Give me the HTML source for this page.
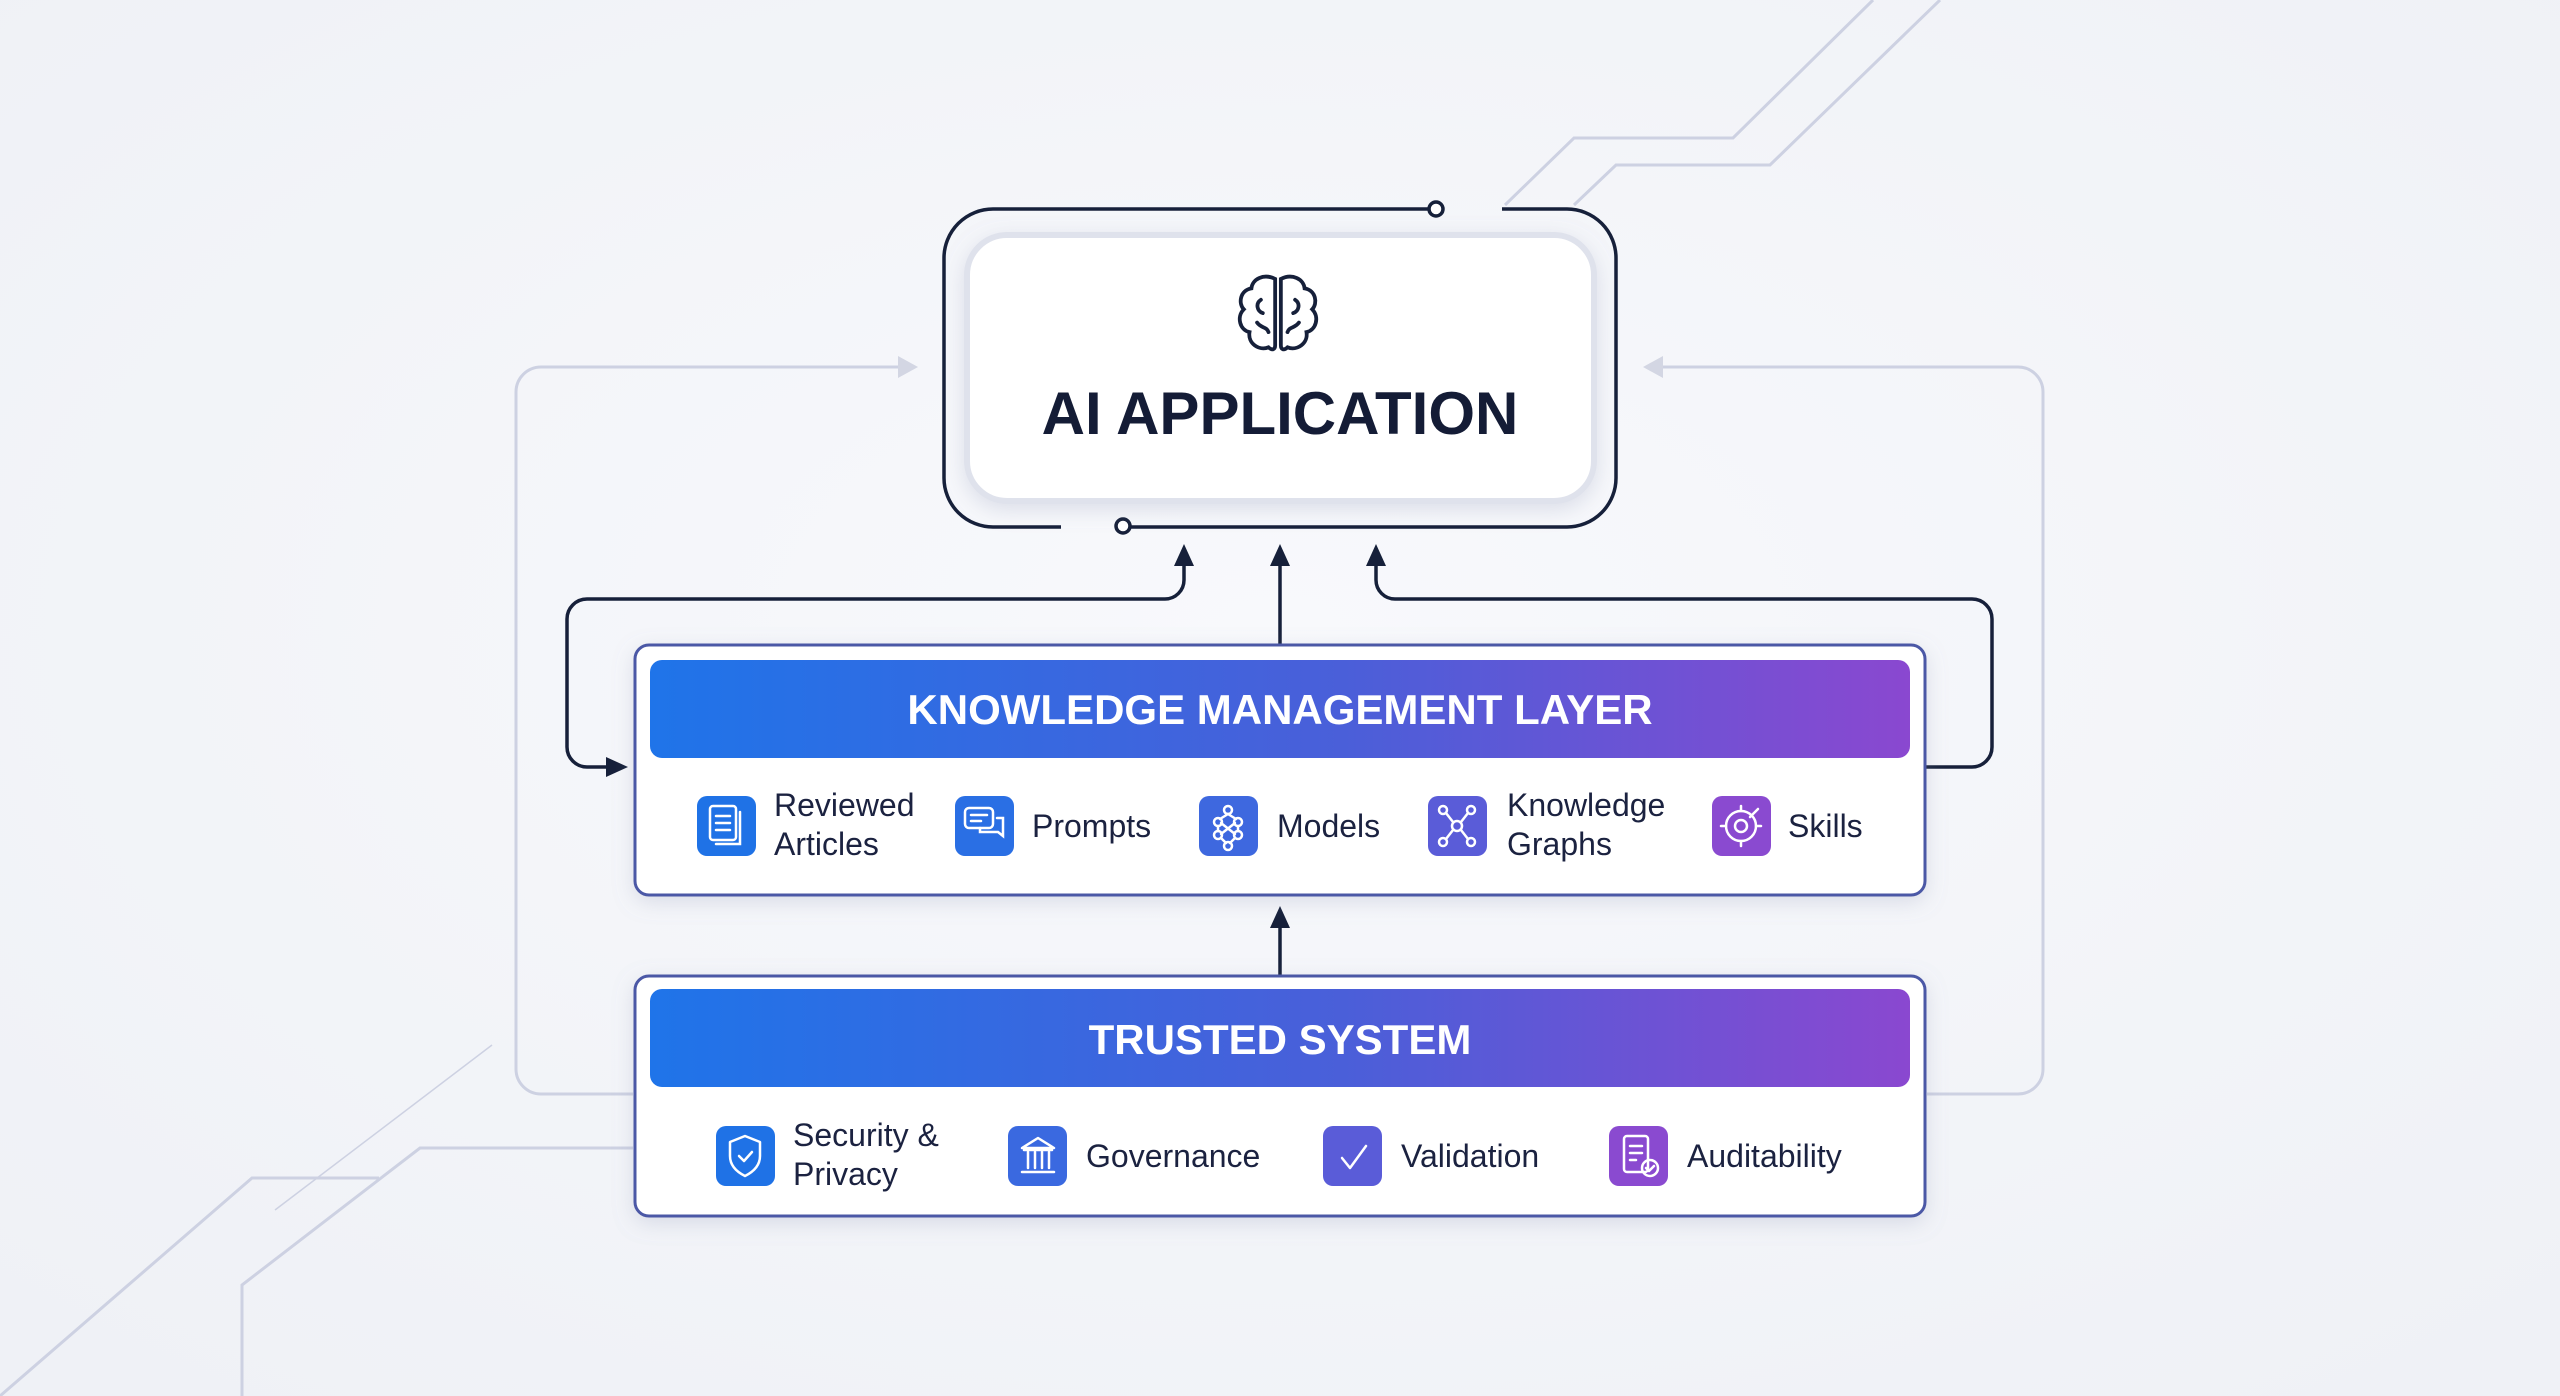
<!DOCTYPE html>
<html><head><meta charset="utf-8"><style>
html,body{margin:0;padding:0;width:2560px;height:1396px;overflow:hidden;background:#f3f5f9;}
svg{display:block}
text{font-family:"Liberation Sans",sans-serif;}
</style></head><body>
<svg width="2560" height="1396" viewBox="0 0 2560 1396" xmlns="http://www.w3.org/2000/svg">
<defs>
<linearGradient id="hg" x1="0" x2="1" y1="0" y2="0">
<stop offset="0" stop-color="#1f74e9"/><stop offset="0.55" stop-color="#4a5fd9"/><stop offset="1" stop-color="#8a48d0"/></linearGradient>
<radialGradient id="bg" cx="0.5" cy="0.45" r="0.7"><stop offset="0" stop-color="#f8f9fc"/><stop offset="1" stop-color="#eff1f6"/></radialGradient>
<filter id="sh" x="-10%" y="-10%" width="120%" height="130%"><feDropShadow dx="0" dy="6" stdDeviation="10" flood-color="#8890b0" flood-opacity="0.25"/></filter>
</defs>
<rect width="2560" height="1396" fill="url(#bg)"/>
<g fill="none" stroke="#cdd1e2" stroke-width="3">
<polyline points="1873,0 1733,138 1574,138 1505,205"/>
<polyline points="1940,0 1770,165 1616,165 1574,205"/>
<polyline points="0,1396 252,1178 379,1178"/>
<polyline points="242,1396 242,1285 420,1148 633,1148"/>
<line x1="275" y1="1210" x2="492" y2="1045" stroke-width="1.5"/>
<path d="M905,367 H541 a25,25 0 0 0 -25,25 V1069 a25,25 0 0 0 25,25 H633"/>
<path d="M1660,367 H2018 a25,25 0 0 1 25,25 V1069 a25,25 0 0 1 -25,25 H1927"/>
</g>
<polygon points="918,367 898,356 898,378" fill="#d3d6e3"/>
<polygon points="1643,367 1663,356 1663,378" fill="#d3d6e3"/>

<g fill="none" stroke="#16203a" stroke-width="3.5">
<path d="M1430,209 H993 a49,49 0 0 0 -49,49 V478 a49,49 0 0 0 49,49 H1061"/>
<path d="M1502,209 H1567 a49,49 0 0 1 49,49 V478 a49,49 0 0 1 -49,49 H1130"/>
<circle cx="1436" cy="209" r="7" fill="#fff"/>
<circle cx="1123" cy="526" r="7" fill="#fff"/>
</g>
<rect x="967" y="235" width="627" height="266" rx="40" fill="#fff" stroke="#dfe2ec" stroke-width="6" filter="url(#sh)"/>
<g fill="none" stroke="#16203a" stroke-width="4" stroke-linecap="round" transform="translate(1278,315) scale(0.95)">
<path d="M-3,-38 C-15,-44 -27,-38 -28,-28 C-40,-26 -42,-12 -36,-6 C-44,2 -40,16 -30,18 C-32,30 -20,38 -10,34 C-6,38 -3,36 -3,32 Z"/>
<path d="M3,-38 C15,-44 27,-38 28,-28 C40,-26 42,-12 36,-6 C44,2 40,16 30,18 C32,30 20,38 10,34 C6,38 3,36 3,32 Z"/>
<path d="M-18,-16 C-24,-12 -22,-4 -16,-2 M-22,8 C-18,14 -12,12 -10,18 M18,-16 C24,-12 22,-4 16,-2 M22,8 C18,14 12,12 10,18"/>
</g>
<text x="1280" y="434" text-anchor="middle" font-size="60" font-weight="bold" fill="#141c36">AI APPLICATION</text>

<g fill="none" stroke="#16203a" stroke-width="3.5">
<path d="M1184,560 V580 a19,19 0 0 1 -19,19 H587 a20,20 0 0 0 -20,20 V747 a20,20 0 0 0 20,20 H612"/>
<path d="M1376,560 V580 a19,19 0 0 0 19,19 H1972 a20,20 0 0 1 20,20 V747 a20,20 0 0 1 -20,20 H1926"/>
<line x1="1280" y1="560" x2="1280" y2="645"/>
<line x1="1280" y1="920" x2="1280" y2="976"/>
</g>
<g fill="#16203a">
<polygon points="1184,544 1174,566 1194,566"/>
<polygon points="1280,544 1270,566 1290,566"/>
<polygon points="1376,544 1366,566 1386,566"/>
<polygon points="1280,906 1270,928 1290,928"/>
<polygon points="628,767 606,757 606,777"/>
</g>

<rect x="635" y="645" width="1290" height="250" rx="14" fill="#fff" stroke="#4c58a6" stroke-width="3" filter="url(#sh)"/>
<rect x="650" y="660" width="1260" height="98" rx="12" fill="url(#hg)"/>
<text x="1280" y="724" text-anchor="middle" font-size="42" font-weight="bold" fill="#fff">KNOWLEDGE MANAGEMENT LAYER</text>
<g>
<rect x="697" y="796" width="59" height="60" rx="10" fill="#1f72e6"/>
<rect x="955" y="796" width="59" height="60" rx="10" fill="#2a6fe4"/>
<rect x="1199" y="796" width="59" height="60" rx="10" fill="#3e68df"/>
<rect x="1428" y="796" width="59" height="60" rx="10" fill="#5a5cd8"/>
<rect x="1712" y="796" width="59" height="60" rx="10" fill="#8a4ad0"/>
</g>
<g fill="none" stroke="#fff" stroke-width="2.5" stroke-linecap="round">
<rect x="710" y="806" width="26" height="34" rx="3"/><path d="M716,816h14M716,823h14M716,830h14M740,812v32h-24"/>
<rect x="965" y="808" width="28" height="20" rx="4"/><path d="M971,815h16M971,821h10M997,818h6v18l-5,-4h-18v-4"/>
<circle cx="1228" cy="810" r="4"/><circle cx="1218" cy="822" r="4"/><circle cx="1238" cy="822" r="4"/><circle cx="1218" cy="835" r="4"/><circle cx="1238" cy="835" r="4"/><circle cx="1228" cy="846" r="4"/><path d="M1228,814L1220,819M1228,814L1236,819M1218,826v5M1238,826v5M1221,838L1226,843M1235,838L1230,843M1221,823L1235,834M1235,823L1221,834"/>
<circle cx="1457" cy="826" r="5"/><circle cx="1443" cy="810" r="4"/><circle cx="1471" cy="810" r="4"/><circle cx="1443" cy="842" r="4"/><circle cx="1471" cy="842" r="4"/><path d="M1446,813l7,9M1468,813l-7,9M1446,839l7,-9M1468,839l-7,-9"/>
<circle cx="1741" cy="826" r="15"/><circle cx="1741" cy="826" r="6"/><path d="M1741,806v5M1741,841v5M1721,826h5M1756,826h5M1750,817l8,-8"/>
</g>
<g font-size="32" fill="#1b2240">
<text x="774" y="816">Reviewed</text><text x="774" y="855">Articles</text>
<text x="1032" y="837">Prompts</text>
<text x="1277" y="837">Models</text>
<text x="1507" y="816">Knowledge</text><text x="1507" y="855">Graphs</text>
<text x="1788" y="837">Skills</text>
</g>

<rect x="635" y="976" width="1290" height="240" rx="14" fill="#fff" stroke="#4c58a6" stroke-width="3" filter="url(#sh)"/>
<rect x="650" y="989" width="1260" height="98" rx="12" fill="url(#hg)"/>
<text x="1280" y="1054" text-anchor="middle" font-size="42" font-weight="bold" fill="#fff">TRUSTED SYSTEM</text>
<g>
<rect x="716" y="1126" width="59" height="60" rx="10" fill="#1f72e6"/>
<rect x="1008" y="1126" width="59" height="60" rx="10" fill="#3a69e0"/>
<rect x="1323" y="1126" width="59" height="60" rx="10" fill="#5a5cd8"/>
<rect x="1609" y="1126" width="59" height="60" rx="10" fill="#8a4ad0"/>
</g>
<g fill="none" stroke="#fff" stroke-width="2.5" stroke-linecap="round" stroke-linejoin="round">
<path d="M745,1136l-15,6v14c0,10 7,16 15,20c8,-4 15,-10 15,-20v-14z"/><path d="M739,1156l5,5l8,-9"/>
<path d="M1022,1148l16,-10l16,10zM1024,1150h28M1028,1152v16M1035,1152v16M1042,1152v16M1049,1152v16M1022,1172h32"/>
<path d="M1342,1158l8,10l16,-22"/>
<rect x="1624" y="1136" width="24" height="36" rx="3"/><path d="M1630,1146h12M1630,1153h12M1630,1160h6"/><circle cx="1650" cy="1168" r="8"/><path d="M1646,1168l3,3l5,-5"/>
</g>
<g font-size="32" fill="#1b2240">
<text x="793" y="1146">Security &amp;</text><text x="793" y="1185">Privacy</text>
<text x="1086" y="1167">Governance</text>
<text x="1401" y="1167">Validation</text>
<text x="1687" y="1167">Auditability</text>
</g>
</svg>
</body></html>
